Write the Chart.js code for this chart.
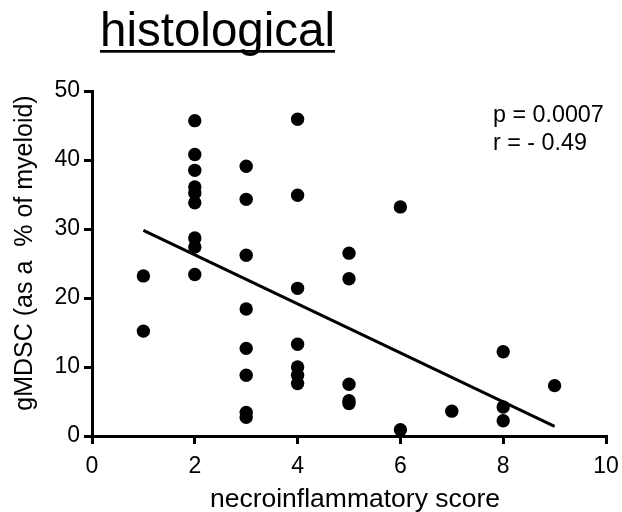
<!DOCTYPE html>
<html>
<head>
<meta charset="utf-8">
<script src="https://cdn.jsdelivr.net/npm/chart.js@4/dist/chart.umd.min.js"></script>
<style>
  html, body { margin: 0; padding: 0; background: #fff; }
  #wrap { width: 622px; height: 512px; }
</style>
</head>
<body>
<div id="wrap"><canvas id="c" width="622" height="512"></canvas></div>
<script>
// ---- data ----
const scoreX = [
  1, 1,
  2, 2, 2, 2, 2, 2, 2, 2, 2,
  3, 3, 3, 3, 3, 3, 3, 3,
  4, 4, 4, 4, 4, 4, 4,
  5, 5, 5, 5, 5,
  6, 6,
  7,
  8, 8, 8,
  9
];
const gmdscY = [
  23.2, 15.2,
  45.7, 40.8, 38.5, 36.1, 35.2, 33.8, 28.7, 27.4, 23.4,
  39.1, 34.3, 26.2, 18.4, 12.7, 8.8, 3.4, 2.7,
  45.9, 34.9, 21.4, 13.3, 10.0, 8.8, 7.6,
  26.5, 22.8, 7.5, 5.1, 4.7,
  33.2, 0.9,
  3.6,
  12.2, 4.2, 2.2,
  7.3
];
const fitX = [1, 9];
const fitY = [29.8, 1.4];
const xTicks = [0, 2, 4, 6, 8, 10];
const yTicks = [0, 10, 20, 30, 40, 50];
const titleText = 'histological';
const statsLines = ['p = 0.0007', 'r = - 0.49'];
const xTitle = 'necroinflammatory score';
const yTitle = 'gMDSC (as a  % of myeloid)';

const FONT = '"Liberation Sans", Arial, Helvetica, sans-serif';

const points = scoreX.map((x, i) => ({ x: x, y: gmdscY[i] }));
const fitLine = fitX.map((x, i) => ({ x: x, y: fitY[i] }));

const textPlugin = {
  id: 'texts',
  afterDraw(chart) {
    const ctx = chart.ctx;
    ctx.save();
    ctx.fillStyle = '#000';
    // title with underline
    ctx.font = '47.5px ' + FONT;
    ctx.textAlign = 'left';
    ctx.textBaseline = 'alphabetic';
    ctx.fillText(titleText, 100, 46);
    const tw = ctx.measureText(titleText).width;
    ctx.fillRect(100, 50, tw, 2.7);
    // stats
    ctx.font = '23.3px ' + FONT;
    ctx.fillText(statsLines[0], 493, 122);
    ctx.fillText(statsLines[1], 493, 150);
    // x title
    ctx.font = '26.5px ' + FONT;
    ctx.textAlign = 'center';
    ctx.fillText(xTitle, 355, 506.5);
    // y title
    ctx.font = '25px ' + FONT;
    ctx.translate(32, 253);
    ctx.rotate(-Math.PI / 2);
    ctx.fillText(yTitle, 0, 0);
    ctx.restore();
  }
};

const axisCommon = (ticksArr, step) => ({
  type: 'linear',
  min: ticksArr[0],
  max: ticksArr[ticksArr.length - 1],
  afterBuildTicks(scale) { scale.ticks = ticksArr.map(v => ({ value: v })); },
  ticks: {
    stepSize: step,
    color: '#000',
    font: { family: FONT, size: 23 },
    autoSkip: false,
    maxRotation: 0
  },
  grid: {
    display: true,
    drawOnChartArea: false,
    drawTicks: true,
    tickLength: 8,
    tickWidth: 3,
    tickColor: '#000',
    color: '#000',
    lineWidth: 3
  },
  border: { display: true, color: '#000', width: 3 },
  title: { display: false }
});

const xScale = axisCommon(xTicks, 2);
xScale.position = 'bottom';
xScale.ticks.padding = 9;
xScale.afterFit = (s) => { s.height = 76; s.paddingLeft = 0; s.paddingRight = 0; };
const yScale = axisCommon(yTicks, 10);
yScale.position = 'left';
yScale.ticks.padding = 4;
yScale.afterFit = (s) => { s.width = 92; s.paddingTop = 0; s.paddingBottom = 0; };

new Chart(document.getElementById('c'), {
  type: 'scatter',
  data: {
    datasets: [
      {
        type: 'line',
        data: fitLine,
        borderColor: '#000',
        borderWidth: 3,
        pointRadius: 0,
        fill: false,
        order: 2
      },
      {
        type: 'scatter',
        data: points,
        backgroundColor: '#000',
        borderColor: '#000',
        borderWidth: 0,
        pointRadius: 6.7,
        pointHoverRadius: 6.7,
        order: 1
      }
    ]
  },
  options: {
    responsive: false,
    animation: false,
    devicePixelRatio: 1,
    layout: { padding: { top: 91, right: 16, left: 0, bottom: 0 } },
    plugins: { legend: { display: false }, tooltip: { enabled: false }, title: { display: false } },
    scales: { x: xScale, y: yScale }
  },
  plugins: [textPlugin]
});
</script>
</body>
</html>
